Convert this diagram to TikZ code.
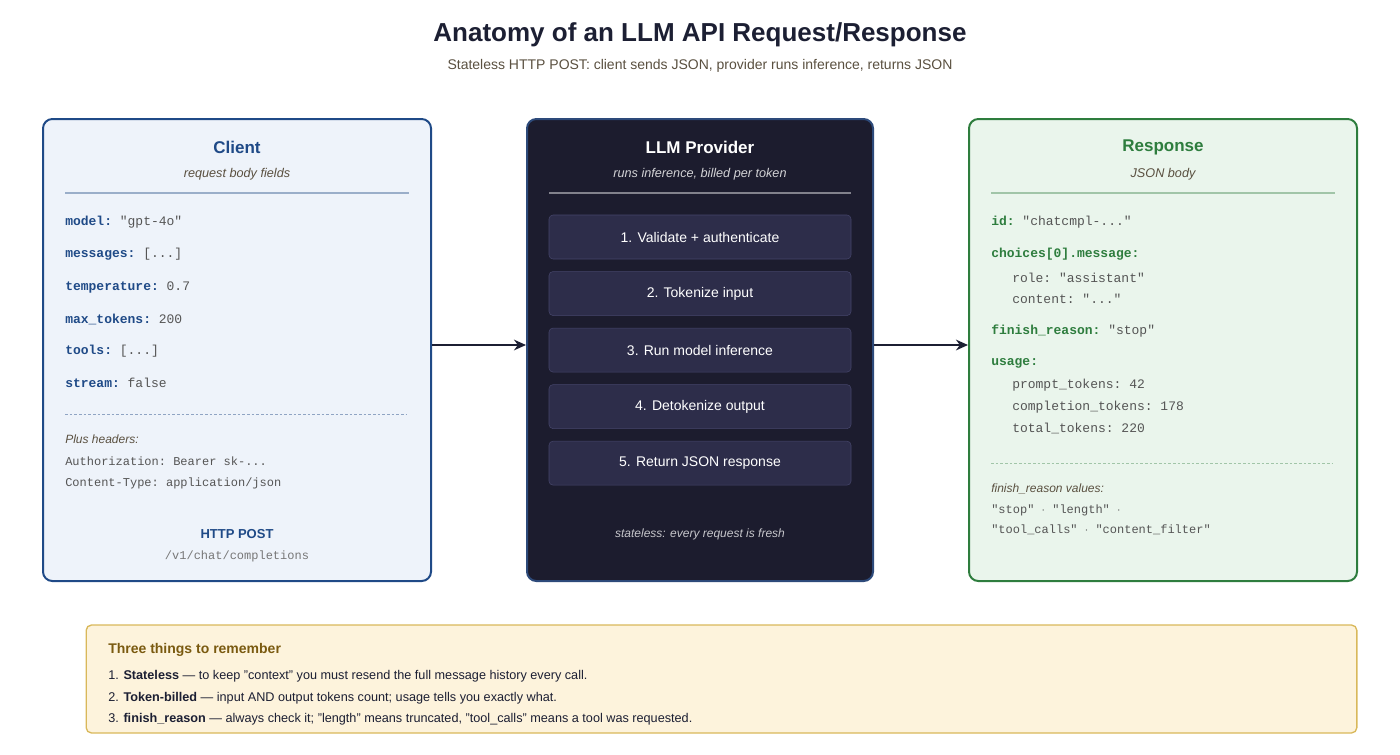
\documentclass[tikz,border=0pt]{standalone}
\usepackage{fontspec}
\setmainfont{Liberation Sans}
\setmonofont{Liberation Mono}
\usetikzlibrary{positioning, arrows.meta, calc}
\definecolor{inkDark}{HTML}{1C1F33}
\definecolor{clientBlue}{HTML}{1F4A87}
\definecolor{clientFill}{HTML}{EEF3FA}
\definecolor{provFill}{HTML}{1C1C2E}
\definecolor{provLine}{HTML}{2D4A7A}
\definecolor{stepFill}{HTML}{2D2D4A}
\definecolor{stepLine}{HTML}{45456A}
\definecolor{respGreen}{HTML}{2E7D3E}
\definecolor{respFill}{HTML}{EAF5EC}
\definecolor{noteFill}{HTML}{FDF3DC}
\definecolor{noteLine}{HTML}{D9B85A}
\definecolor{noteBrown}{HTML}{7A5A10}
\definecolor{valGray}{HTML}{555555}
\definecolor{subGray}{HTML}{5A5040}
\newcommand{\pxs}[1]{\fontsize{#1}{#1}\selectfont}
\tikzstyle{panel}=[draw, line width=1.5pt, rounded corners=7pt, minimum width=291pt, minimum height=346.5pt]
\tikzstyle{procStep}=[draw=stepLine, fill=stepFill, rounded corners=3pt, minimum width=226.5pt, minimum height=33pt, text=white, font=\pxs{10.5pt}]
\tikzstyle{field}=[anchor=west, inner sep=0pt, font=\ttfamily\pxs{9.75pt}]
\tikzstyle{sub}=[anchor=west, inner sep=0pt, font=\ttfamily\pxs{9pt}, text=valGray]
\tikzstyle{head}=[font=\bfseries\pxs{12.75pt}]
\tikzstyle{tag}=[font=\itshape\pxs{9.5pt}, text=subGray]
\tikzstyle{arrow}=[-{Stealth[length=9pt,width=8pt]}, line width=1.5pt, draw=inkDark]
\newcommand\ckey[2]{\textbf{\color{clientBlue}#1:} \color{valGray}#2}
\newcommand\rkey[2]{\textbf{\color{respGreen}#1:} \color{valGray}#2}
\begin{document}
\begin{tikzpicture}[x=0.75pt, y=-0.75pt]
  \useasboundingbox (0,0) rectangle (1400,754);
  % heading
  \node[font=\bfseries\pxs{19.5pt}, text=inkDark] (title) at (700,35) {Anatomy of an LLM API Request/Response};
  \node[font=\pxs{10.5pt}, text=subGray] (subtitle) at (700,66) {Stateless HTTP POST: client sends JSON, provider runs inference, returns JSON};
  % panels
  \node[panel, draw=clientBlue, fill=clientFill] (client) at (237,350) {};
  \node[panel, draw=provLine, fill=provFill, minimum width=259.5pt] (prov) at (700,350) {};
  \node[panel, draw=respGreen, fill=respFill] (resp) at (1163,350) {};
  % client
  \node[head, text=clientBlue] (clientHead) at (237,147) {Client};
  \node[tag] (clientTag) at (237,174) {request body fields};
  \draw[clientBlue!45, line width=1pt] (65,193) -- (409,193);
  \node[field] (fModel) at (65,222) {\ckey{model}{"gpt-4o"}};
  \node[field] (fMsgs) at (65,254) {\ckey{messages}{[...]}};
  \node[field] (fTemp) at (65,287) {\ckey{temperature}{0.7}};
  \node[field] (fMax) at (65,319) {\ckey{max\_tokens}{200}};
  \node[field] (fTools) at (65,351) {\ckey{tools}{[...]}};
  \node[field] (fStream) at (65,383) {\ckey{stream}{false}};
  \draw[clientBlue!50, dash pattern=on 2pt off 1.5pt] (65,414) -- (407,414);
  \node[tag, anchor=west, inner sep=0pt, font=\itshape\pxs{9pt}] (plusHead) at (65,439) {Plus headers:};
  \node[sub] (hAuth) at (65,461) {Authorization: Bearer sk-...};
  \node[sub] (hType) at (65,483) {Content-Type: application/json};
  \node[font=\bfseries\pxs{9.75pt}, text=clientBlue] (postHead) at (237,534) {HTTP POST};
  \node[font=\ttfamily\pxs{9pt}, text=valGray!80] (postPath) at (237,556) {/v1/chat/completions};
  % provider
  \node[head, text=white] (provHead) at (700,147) {LLM Provider};
  \node[tag, text=white!80!provFill] (provTag) at (700,174) {runs inference, billed per token};
  \draw[white!45!provFill, line width=1pt] (549,193) -- (851,193);
  \node[procStep] (s1) at (700,237) {1. Validate + authenticate};
  \node[procStep, below=9pt of s1] (s2) {2. Tokenize input};
  \node[procStep, below=9pt of s2] (s3) {3. Run model inference};
  \node[procStep, below=9pt of s3] (s4) {4. Detokenize output};
  \node[procStep, below=9pt of s4] (s5) {5. Return JSON response};
  \node[tag, text=white!75!provFill, font=\itshape\pxs{9pt}] (provFoot) at (700,534) {stateless: every request is fresh};
  % response
  \node[head, text=respGreen] (respHead) at (1163,147) {Response};
  \node[tag] (respTag) at (1163,174) {JSON body};
  \draw[respGreen!45, line width=1pt] (991,193) -- (1335,193);
  \node[field] (rId) at (991,222) {\rkey{id}{"chatcmpl-..."}};
  \node[field] (rChoice) at (991,254) {\textbf{\color{respGreen}choices[0].message:}};
  \node[sub, font=\ttfamily\pxs{9.75pt}] (rRole) at (1012,278) {role: "assistant"};
  \node[sub, font=\ttfamily\pxs{9.75pt}] (rCont) at (1012,299) {content: "..."};
  \node[field] (rFinish) at (991,331) {\rkey{finish\_reason}{"stop"}};
  \node[field] (rUsage) at (991,363) {\textbf{\color{respGreen}usage:}};
  \node[sub, font=\ttfamily\pxs{9.75pt}] (rPrompt) at (1012,385) {prompt\_tokens: 42};
  \node[sub, font=\ttfamily\pxs{9.75pt}] (rCompl) at (1012,407) {completion\_tokens: 178};
  \node[sub, font=\ttfamily\pxs{9.75pt}] (rTotal) at (1012,428) {total\_tokens: 220};
  \draw[respGreen!45, dash pattern=on 2pt off 1.5pt] (991,463) -- (1333,463);
  \node[tag, anchor=west, inner sep=0pt, font=\itshape\pxs{9pt}] (valHead) at (991,489) {finish\_reason values:};
  \node[sub] (val1) at (991,510) {"stop" $\cdot$ "length" $\cdot$};
  \node[sub] (val2) at (991,530) {"tool\_calls" $\cdot$ "content\_filter"};
  % connectors
  \coordinate (flow) at (700,345);
  \draw[arrow] (client.east |- flow) -- (prov.west |- flow);
  \draw[arrow] (prov.east |- flow) -- (resp.west |- flow);
  % notes
  \node[draw=noteLine, fill=noteFill, line width=1pt, rounded corners=4pt, minimum width=953pt, minimum height=81pt] (notes) at (721.5,679) {};
  \node[anchor=west, inner sep=0pt, font=\bfseries\pxs{10.5pt}, text=noteBrown] (notesHead) at (108,650) {Three things to remember};
  \node[anchor=west, inner sep=0pt, font=\pxs{9.5pt}, text=inkDark] (n1) at (108,676) {1. \textbf{Stateless} --- to keep "context" you must resend the full message history every call.};
  \node[anchor=west, inner sep=0pt, font=\pxs{9.5pt}, text=inkDark] (n2) at (108,698) {2. \textbf{Token-billed} --- input AND output tokens count; usage tells you exactly what.};
  \node[anchor=west, inner sep=0pt, font=\pxs{9.5pt}, text=inkDark] (n3) at (108,719) {3. \textbf{finish\_reason} --- always check it; "length" means truncated, "tool\_calls" means a tool was requested.};
\end{tikzpicture}
\end{document}
